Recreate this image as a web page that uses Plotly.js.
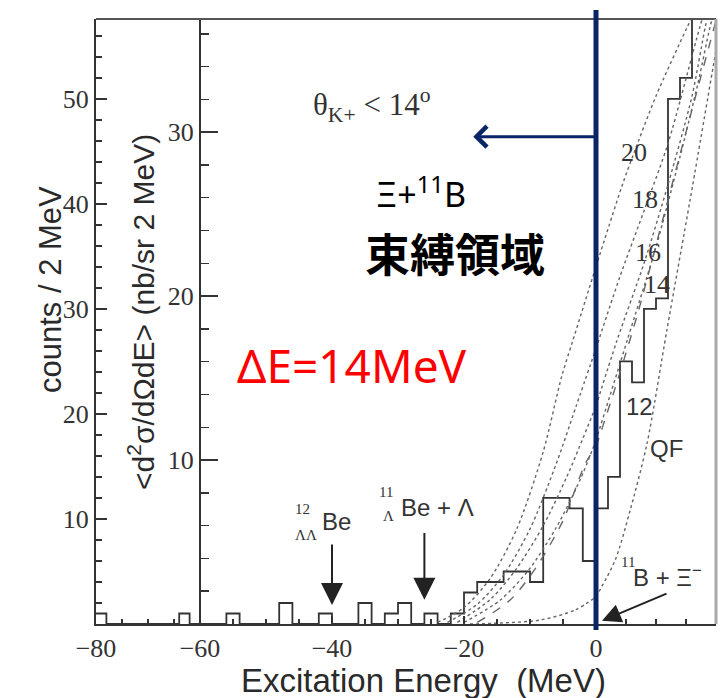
<!DOCTYPE html>
<html>
<head>
<meta charset="utf-8">
<script src="https://cdn.plot.ly/plotly-3.0.1.min.js"></script>
<style>
  html, body { margin: 0; padding: 0; background: #fff; }
  #chart { width: 727px; height: 698px; }
</style>
</head>
<body>
<div id="chart"></div>
<script>
// Excitation-energy spectrum: counts per 2 MeV bin (left edges listed)
const binLeft = [-80,-78,-76,-74,-72,-70,-68,-66,-64,-62,
                 -60,-58,-56,-54,-52,-50,-48,-46,-44,-42,
                 -40,-38,-36,-34,-32,-30,-28,-26,-24,-22,
                 -20,-18,-16,-14,-12,-10,-8,-6,-4,-2,
                 0,2,4,6,8,10,12,14,16,18];
const binCounts = [1,0,0,0,0,0,0,0,1,0,
                   0,0,1,0,0,0,2,0,0,1,
                   0,0,2,0,1,2,0,1,0,1,
                   3,4,4,5,5,4,12,12,11,6,
                   11,14,25,23,30,31,50,52,62,66];

// Calculated spectra, <d2sigma/dOmega dE> (nb/sr 2 MeV), one per well depth and QF
const curveE = {
  v20: [-24,-20,-16,-12,-8,-5.2,-3.5,0,4.5,6.3,10,15.2,18],
  v18: [-22.5,-18,-14,-10,-6,-3,0,4,8,12,17.3,19],
  v16: [-21,-16,-12,-8,-4.4,0,3.5,8,12,16,18.2,19.5],
  v14: [-20,-14.5,-10,-6,-2.4,0,5.2,10,14,17,19,20],
  v12: [-18,-13,-9,-5,-1.6,0,3.2,7,11,15,19.7,20],
  qf:  [-19.1,-8.5,-3.2,0,3.2,5.7,8.5,11.8,15.7,20]
};
const curveV = {
  v20: [0.1,1.0,2.8,5.8,10.5,15.1,17.3,21.8,26.9,28.7,32.2,36.4,38.5],
  v18: [0.1,1.2,3.0,5.8,9.8,13.3,16.8,21.2,25.2,29.3,36.4,38.5],
  v16: [0.1,1.5,3.4,6.0,9.0,13.3,17.3,22.0,26.8,32.2,36.4,38.5],
  v14: [0.1,1.46,3.4,5.9,8.8,11.2,17.3,23.0,28.5,33.0,36.4,37.8],
  v12: [0.1,1.46,3.5,6.3,9.8,10.8,14.4,19.0,24.5,30,36.4,36.8],
  qf:  [0,0.24,0.85,1.65,3.9,6.95,11.0,17.9,25.9,35]
};
const curveDash = {v20:'dot', v18:'dot', v16:'dot', v14:'dot', v12:'dash', qf:'dot'};

// Tick labels
const xTicksLeft = [-80];
const xTicksMid = [-60,-40,-20,0];
const xTicksRight = [20];
const countTicks = [10,20,30,40,50];
const xsecTicks = [10,20,30];

// The energy axis is split in three pieces, each with its own scale
const segments = [
  {axis:'x',  lo:-80, hi:-60},
  {axis:'x2', lo:-60, hi:0},
  {axis:'x3', lo:0,   hi:20}
];

// plot area in pixels (for placing text)
const P = {l:96, r:11, t:19, b:74, W:727, H:698};
const pw = P.W - P.l - P.r, ph = P.H - P.t - P.b;
const fx = px => (px - P.l) / pw;
const fy = py => (P.H - P.b - py) / ph;

function histSegment(lo, hi) {
  const xs = [], ys = [];
  for (let i = 0; i < binLeft.length; i++) {
    const a = binLeft[i];
    if (a >= lo && a < hi) {
      if (!xs.length && i > 0) { xs.push(a); ys.push(binCounts[i-1]); }
      xs.push(a); ys.push(binCounts[i]);
    }
  }
  xs.push(hi); ys.push(ys[ys.length-1]);
  return {xs, ys};
}

const traces = [];
segments.forEach(s => {
  Object.keys(curveE).forEach(k => {
    const xs = [], ys = [];
    curveE[k].forEach((e, i) => {
      if (e >= s.lo && e <= s.hi) { xs.push(e); ys.push(curveV[k][i]); }
    });
    if (xs.length > 1) {
      traces.push({
        type:'scatter', mode:'lines', x:xs, y:ys,
        xaxis:s.axis, yaxis:'y2',
        line:{shape:'spline', smoothing:0.8, color:'#666', width:1.4, dash:curveDash[k]},
        hoverinfo:'skip'
      });
    }
  });
  const h = histSegment(s.lo, s.hi);
  traces.push({
    type:'scatter', mode:'lines', x:h.xs, y:h.ys,
    xaxis:s.axis, yaxis:'y',
    line:{shape:'hv', color:'#333', width:1.8},
    hoverinfo:'skip'
  });
});

const serif = '"Liberation Serif", "DejaVu Serif", serif';
const sans = '"Liberation Sans", Arial, sans-serif';
const tickFont = {family:serif, size:26, color:'#333'};
const b1 = fx(200), b2 = fx(596);

function xAxis(domain, range, tickvals) {
  return {
    domain, range, anchor:'y', tickmode:'array', tickvals,
    showline:true, linecolor:'#333', linewidth:2, mirror:false,
    ticks:'inside', ticklen:8, tickwidth:1.5, tickcolor:'#333',
    minor:{ticks:'inside', dtick:5, tick0:0, ticklen:5, tickcolor:'#333', showgrid:false},
    showgrid:false, zeroline:false, tickfont:tickFont, fixedrange:true
  };
}

function txt(text, x, y, size, opts) {
  return Object.assign({
    text, x:fx(x), y:fy(y), xref:'paper', yref:'paper',
    showarrow:false, xanchor:'center', yanchor:'middle',
    font:{family:sans, size, color:'#333'}
  }, opts || {});
}

function arrowTo(xref, x, y, ax, ay, color, width, head, size) {
  return {
    text:'', xref, yref:'y', axref:xref, ayref:'y',
    x, y, ax, ay, showarrow:true,
    arrowhead:head, arrowsize:size, arrowwidth:width, arrowcolor:color
  };
}

const navy = '#0a2566';

const layout = {
  width:P.W, height:P.H,
  margin:{l:P.l, r:P.r, t:P.t, b:P.b, pad:0},
  paper_bgcolor:'#fff', plot_bgcolor:'#fff',
  showlegend:false,
  xaxis: xAxis([0, b1], [-80,-60], xTicksLeft),
  xaxis2: xAxis([b1, b2], [-60,0], xTicksMid),
  xaxis3: xAxis([b2, 1], [0,20], xTicksRight),
  yaxis: {
    range:[0,57.6], anchor:'x', tickmode:'array', tickvals:countTicks,
    showline:true, linecolor:'#333', linewidth:2,
    ticks:'inside', ticklen:11, tickwidth:1.5, tickcolor:'#333',
    minor:{ticks:'inside', dtick:2, tick0:0, ticklen:6, tickcolor:'#333', showgrid:false},
    showgrid:false, zeroline:false, tickfont:tickFont, fixedrange:true
  },
  yaxis2: {
    range:[0,36.9], overlaying:'y', anchor:'free', position:b1, side:'left',
    tickmode:'array', tickvals:xsecTicks,
    showline:true, linecolor:'#333', linewidth:2,
    ticks:'inside', ticklen:17, tickwidth:1.5, tickcolor:'#333',
    minor:{ticks:'inside', dtick:2, tick0:0, ticklen:8, tickcolor:'#333', showgrid:false},
    showgrid:false, zeroline:false, tickfont:tickFont, fixedrange:true
  },
  shapes: [
    // frame top and right edge
    {type:'line', xref:'paper', yref:'paper', x0:0, x1:1, y0:1, y1:1, line:{color:'#555', width:2}},
    {type:'line', xref:'paper', yref:'paper', x0:1, x1:1, y0:0, y1:1, line:{color:'#aaa', width:3}},
    // Xi + 11B threshold at E = 0 (left edge of the right-hand axis piece)
    {type:'line', xref:'paper', yref:'paper', x0:b2, x1:b2, y0:fy(630), y1:fy(10), line:{color:navy, width:5}}
  ],
  annotations: [
    // axis titles
    txt('Excitation Energy&nbsp; (MeV)', 423, 680, 33, {font:{family:sans, size:33, color:'#2a2a2a'}}),
    txt('counts / 2 MeV', 50, 290, 31, {textangle:-90, font:{family:sans, size:31, color:'#2a2a2a'}}),
    txt('&lt;d<sup>2</sup>σ/dΩdE&gt; (nb/sr 2 MeV)', 141, 312, 30, {textangle:-90, font:{family:sans, size:30, color:'#2a2a2a'}}),
    // angular cut
    txt('θ<sub>K+</sub> &lt; 14<sup>o</sup>', 372, 105, 31, {font:{family:serif, size:31, color:'#333'}}),
    // bound region
    txt('Ξ+<sup>11</sup>B', 421, 192, 34, {font:{family:'"Noto Sans", sans-serif', size:34, color:'#000'}}),
    txt('<b>束縛領域</b>', 455, 252, 45, {font:{family:'"Noto Sans CJK JP", sans-serif', size:45, color:'#000'}}),
    txt('ΔE=14MeV', 352, 365, 46, {font:{family:'"Noto Sans", sans-serif', size:46, color:'#ff0000'}}),
    // curve labels
    txt('20', 634, 153, 26, {font:{family:serif, size:26, color:'#333'}}),
    txt('18', 645, 200, 26, {font:{family:serif, size:26, color:'#333'}}),
    txt('16', 648, 252, 26, {font:{family:serif, size:26, color:'#333'}}),
    txt('14', 657, 284, 26, {font:{family:serif, size:26, color:'#333'}}),
    txt('12', 639, 406, 24, {font:{family:sans, size:24, color:'#333'}}),
    txt('QF', 666, 448, 24),
    // thresholds
    txt('12', 302, 509, 15, {font:{family:serif, size:15, color:'#333'}}),
    txt('ΛΛ', 306, 535, 15, {font:{family:serif, size:15, color:'#333'}}),
    txt('Be', 336, 521, 24),
    txt('11', 386, 492, 15, {font:{family:serif, size:15, color:'#333'}}),
    txt('Λ', 388, 516, 15, {font:{family:serif, size:15, color:'#333'}}),
    txt('Be + Λ', 437, 507, 24),
    txt('11', 628, 562, 15, {font:{family:serif, size:15, color:'#333'}}),
    txt('B + Ξ<sup>−</sup>', 667, 576, 24),
    // arrows
    arrowTo('x2', -40, 1.8, -40, 7.7, '#222', 2, 2, 2.2),
    arrowTo('x2', -26, 2.3, -26, 8.8, '#222', 2, 2, 2.2),
    arrowTo('x3', 1.0, 0.3, 12, 2.95, '#222', 2, 2, 1.9),
    arrowTo('x2', -18.6, 46.4, 0, 46.4, navy, 3, 4, 1.35)
  ]
};

Plotly.newPlot('chart', traces, layout, {displayModeBar:false, staticPlot:true});
</script>
</body>
</html>
